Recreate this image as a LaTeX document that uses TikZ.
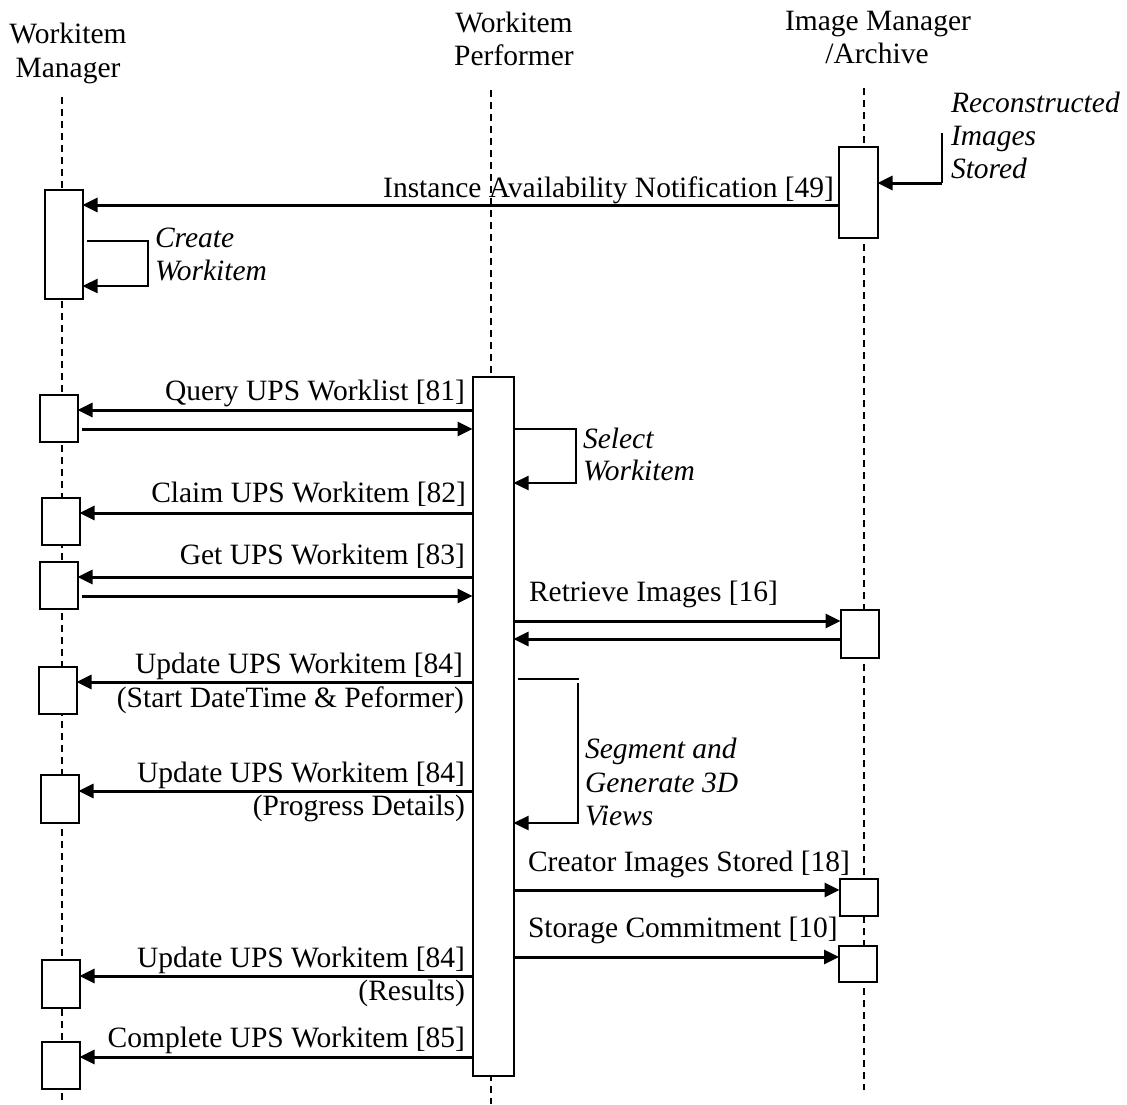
\documentclass[tikz,border=0pt]{standalone}
\usepackage{fontspec}
\setmainfont{Liberation Serif}
\usetikzlibrary{arrows.meta}

\begin{document}
\begin{tikzpicture}[x=1pt,y=-1pt]
  \tikzset{LifeStyle/.style = {
    draw          = black,
    line width    = 1.4pt,
    dash pattern  = on 7pt off 5pt
    }
  }
  \tikzset{BoxStyle/.style = {
    shape         = rectangle,
    draw          = black,
    fill          = white,
    line width    = 2pt,
    inner sep     = 0pt,
    outer sep     = 0pt,
    minimum width = 38pt
    }
  }
  \tikzset{MsgStyle/.style = {
    draw          = black,
    line width    = 3pt,
    -{Triangle[length=15pt,width=14pt]}
    }
  }
  \tikzset{LoopStyle/.style = {
    draw          = black,
    line width    = 2.4pt,
    -{Triangle[length=15pt,width=14pt]}
    }
  }
  \tikzset{NoteLine/.style = {
    draw          = black,
    line width    = 2pt
    }
  }
  \tikzset{TextStyle/.style = {
    inner sep     = 0pt,
    outer sep     = 0pt,
    font          = \fontsize{29.5}{34}\selectfont
    }
  }
  \tikzset{NoteStyle/.style = {
    TextStyle,
    anchor        = base west,
    font          = \fontsize{29.5}{34}\selectfont\itshape
    }
  }

  \useasboundingbox (0,0) rectangle (1127,1104);

  \node[TextStyle, anchor=base](wmHeadA) at (68,43) {Workitem};
  \node[TextStyle, anchor=base](wmHeadB) at (68,77) {Manager};
  \node[TextStyle, anchor=base](wpHeadA) at (514,32) {Workitem};
  \node[TextStyle, anchor=base](wpHeadB) at (514,65) {Performer};
  \node[TextStyle, anchor=base](imHeadA) at (878,30) {Image Manager};
  \node[TextStyle, anchor=base](imHeadB) at (877,63) {/Archive};

  \coordinate (wmTop) at (62,97);
  \coordinate (wmEnd) at (62,1104);
  \coordinate (wpTop) at (491,90);
  \coordinate (wpEnd) at (491,1104);
  \coordinate (imTop) at (864,88);
  \coordinate (imEnd) at (864,1090);
  \draw[LifeStyle](wmTop) -- (wmEnd);
  \draw[LifeStyle](wpTop) -- (wpEnd);
  \draw[LifeStyle](imTop) -- (imEnd);

  \node[BoxStyle, minimum height=109pt](wmA) at (63.5,244) {};
  \node[BoxStyle, minimum height=47pt](wmB) at (58.5,418) {};
  \node[BoxStyle, minimum height=47pt](wmC) at (60.5,521) {};
  \node[BoxStyle, minimum height=47pt](wmD) at (58.5,585) {};
  \node[BoxStyle, minimum height=47pt](wmE) at (57.5,690) {};
  \node[BoxStyle, minimum height=48pt](wmF) at (59.5,798.5) {};
  \node[BoxStyle, minimum height=48pt](wmG) at (60.5,983.5) {};
  \node[BoxStyle, minimum height=47pt](wmH) at (60.5,1065) {};
  \node[BoxStyle, minimum width=41pt, minimum height=699pt](wpA) at (493,726) {};
  \node[BoxStyle, minimum width=39pt, minimum height=91pt](imA) at (858,192) {};
  \node[BoxStyle, minimum height=48pt](imB) at (859.5,633.5) {};
  \node[BoxStyle, minimum height=37pt](imC) at (858.5,897) {};
  \node[BoxStyle, minimum height=36pt](imD) at (858,963.5) {};

  \coordinate (r49) at (0,205);
  \coordinate (rRec) at (0,183);
  \coordinate (recTop) at (942,133);
  \coordinate (cwA) at (87,241);
  \coordinate (cwB) at (148,286);
  \coordinate (r81) at (0,410);
  \coordinate (r81b) at (82,429);
  \coordinate (slA) at (515,429);
  \coordinate (slB) at (576,483);
  \coordinate (r82) at (0,513);
  \coordinate (r83) at (0,577);
  \coordinate (r83b) at (82,596);
  \coordinate (r16) at (0,621);
  \coordinate (r16b) at (0,639);
  \coordinate (r84a) at (0,682);
  \coordinate (sgA) at (518,679);
  \coordinate (sgB) at (579,679);
  \coordinate (sgC) at (578,683);
  \coordinate (sgD) at (578,823);
  \coordinate (r84b) at (0,791);
  \coordinate (r18) at (0,890);
  \coordinate (r10) at (0,957);
  \coordinate (r84c) at (0,976);
  \coordinate (r85) at (0,1057);

  \draw[MsgStyle](imA.west |- r49) -- (wmA.east |- r49);
  \draw[NoteLine](recTop) -- (recTop |- rRec);
  \draw[MsgStyle](recTop |- rRec) -- (imA.east |- rRec);
  \draw[LoopStyle](cwA) -| (cwB) -- (wmA.east |- cwB);
  \draw[MsgStyle](wpA.west |- r81) -- (wmB.east |- r81);
  \draw[MsgStyle](r81b) -- (wpA.west |- r81b);
  \draw[LoopStyle](slA) -| (slB) -- (wpA.east |- slB);
  \draw[MsgStyle](wpA.west |- r82) -- (wmC.east |- r82);
  \draw[MsgStyle](wpA.west |- r83) -- (wmD.east |- r83);
  \draw[MsgStyle](r83b) -- (wpA.west |- r83b);
  \draw[MsgStyle](wpA.east |- r16) -- (imB.west |- r16);
  \draw[MsgStyle](imB.west |- r16b) -- (wpA.east |- r16b);
  \draw[MsgStyle](wpA.west |- r84a) -- (wmE.east |- r84a);
  \draw[NoteLine](sgA) -- (sgB);
  \draw[LoopStyle](sgC) -- (sgD) -- (wpA.east |- sgD);
  \draw[MsgStyle](wpA.west |- r84b) -- (wmF.east |- r84b);
  \draw[MsgStyle](wpA.east |- r18) -- (imC.west |- r18);
  \draw[MsgStyle](wpA.east |- r10) -- (imD.west |- r10);
  \draw[MsgStyle](wpA.west |- r84c) -- (wmG.east |- r84c);
  \draw[MsgStyle](wpA.west |- r85) -- (wmH.east |- r85);

  \node[TextStyle, anchor=base east](l49) at (834,197) {Instance Availability Notification [49]};
  \node[NoteStyle](nRecA) at (951,112) {Reconstructed};
  \node[NoteStyle](nRecB) at (951,145) {Images};
  \node[NoteStyle](nRecC) at (951,178) {Stored};
  \node[NoteStyle](nCwA) at (155,247) {Create};
  \node[NoteStyle](nCwB) at (155,280) {Workitem};
  \node[TextStyle, anchor=base east](l81) at (465,400) {Query UPS Worklist [81]};
  \node[NoteStyle](nSlA) at (583,448) {Select};
  \node[NoteStyle](nSlB) at (583,480) {Workitem};
  \node[TextStyle, anchor=base east](l82) at (466,502) {Claim UPS Workitem [82]};
  \node[TextStyle, anchor=base east](l83) at (465,564) {Get UPS Workitem [83]};
  \node[TextStyle, anchor=base west](l16) at (529,601) {Retrieve Images [16]};
  \node[TextStyle, anchor=base east](l84a) at (463,673) {Update UPS Workitem [84]};
  \node[TextStyle, anchor=base east](l84aa) at (464,707) {(Start DateTime \& Peformer)};
  \node[NoteStyle](nSgA) at (585,758) {Segment and};
  \node[NoteStyle](nSgB) at (585,792) {Generate 3D};
  \node[NoteStyle](nSgC) at (585,825) {Views};
  \node[TextStyle, anchor=base east](l84b) at (465,782) {Update UPS Workitem [84]};
  \node[TextStyle, anchor=base east](l84bb) at (465,815) {(Progress Details)};
  \node[TextStyle, anchor=base west](l18) at (528,871) {Creator Images Stored [18]};
  \node[TextStyle, anchor=base west](l10) at (528,937) {Storage Commitment [10]};
  \node[TextStyle, anchor=base east](l84c) at (465,967) {Update UPS Workitem [84]};
  \node[TextStyle, anchor=base east](l84cc) at (465,1000) {(Results)};
  \node[TextStyle, anchor=base east](l85) at (465,1047) {Complete UPS Workitem [85]};

\end{tikzpicture}
\end{document}
